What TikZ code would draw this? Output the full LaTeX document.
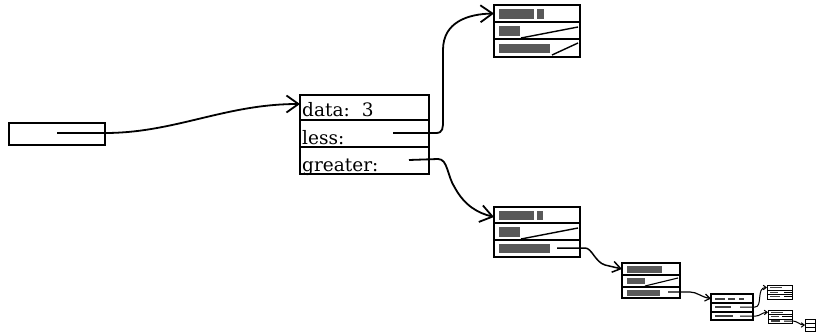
\documentclass[tikz,border=0pt]{standalone}
\usepackage{fontspec}
\newfontfamily\cellfont{DejaVu Serif}
\usetikzlibrary{arrows.meta,calc}

\tikzset{
  cell/.style={draw, line width=1.4pt, inner sep=0pt, outer sep=0pt, anchor=north west},
  smallcell/.style={cell, line width=1.1pt},
  field/.style={anchor=base west, inner sep=0pt, font=\cellfont\fontsize{18.5}{20}\selectfont},
  greek/.style={fill=black!65},
  nullptr/.style={line width=1.4pt},
  link/.style={line width=1.8pt, -{Straight Barb[length=12pt,width=17pt]}},
  linkm/.style={line width=1.5pt, -{Straight Barb[length=8pt,width=11pt]}},
  links/.style={line width=1.2pt, -{Straight Barb[length=5pt,width=7pt]}},
  linkt/.style={line width=1pt, -{Straight Barb[length=3pt,width=4.5pt]}},
}

\begin{document}
\begin{tikzpicture}[x=1pt,y=-1pt]
\useasboundingbox (0,0) rectangle (816,334);

% head pointer cell
\node[cell, minimum width=96, minimum height=22] (head) at (9,123) {};
\coordinate (hp) at (57,133);

% root node: data / less / greater
\node[cell, minimum width=129, minimum height=25] (md) at (300,95) {};
\node[cell, minimum width=129, minimum height=27] (ml) at (300,120) {};
\node[cell, minimum width=129, minimum height=27] (mg) at (300,147) {};
\node[field] (tdata) at (302,117) {data:\hspace{12pt}3};
\node[field] (tless) at (302,144) {less:};
\node[field] (tgreater) at (302,171) {greater:};
\coordinate (lp) at (393,133);
\coordinate (gp) at (409,160);

% upper child (both pointers null)
\node[cell, minimum width=86, minimum height=17] (a1) at (494,5) {};
\node[cell, minimum width=86, minimum height=17] (a2) at (494,22) {};
\node[cell, minimum width=86, minimum height=18] (a3) at (494,39) {};
\fill[greek] (499,9) rectangle (534,19);
\fill[greek] (537,9) rectangle (544,19);
\fill[greek] (499,26) rectangle (520,36);
\fill[greek] (499,44) rectangle (550,53);
\draw[nullptr] (521,38) -- (578,27);
\draw[nullptr] (552,55) -- (578,43);

% lower child
\node[cell, minimum width=86, minimum height=16] (b1) at (494,207) {};
\node[cell, minimum width=86, minimum height=17] (b2) at (494,223) {};
\node[cell, minimum width=86, minimum height=17] (b3) at (494,240) {};
\fill[greek] (499,211) rectangle (534,220);
\fill[greek] (537,211) rectangle (543,220);
\fill[greek] (499,227) rectangle (520,237);
\fill[greek] (499,244) rectangle (550,253);
\draw[nullptr] (521,239) -- (578,228);
\coordinate (bp) at (557,248);

% third level
\node[smallcell, minimum width=58, minimum height=12] (c1) at (622,263) {};
\node[smallcell, minimum width=58, minimum height=12] (c2) at (622,275) {};
\node[smallcell, minimum width=58, minimum height=11] (c3) at (622,287) {};
\fill[greek] (627,266) rectangle (662,273);
\fill[greek] (627,278) rectangle (645,284);
\fill[greek] (627,290) rectangle (660,296);
\draw[nullptr, line width=1.1pt] (645,286) -- (678,278);
\coordinate (cp) at (668,292);

% fourth level
\node[smallcell, minimum width=42, minimum height=9] (d1) at (711,294) {};
\node[smallcell, minimum width=42, minimum height=9] (d2) at (711,303) {};
\node[smallcell, minimum width=42, minimum height=8] (d3) at (711,312) {};
\fill[black!75] (715,297.5) rectangle (725,299.5);
\fill[black!75] (728,297.5) rectangle (735,299.5);
\fill[black!75] (739,297.5) rectangle (744,299.5);
\fill[black!75] (715,306) rectangle (731,308);
\fill[black!75] (715,315) rectangle (733,317);
\coordinate (dp2) at (740,307);
\coordinate (dp3) at (740,316);

% fifth level
\node[smallcell, line width=0.9pt, minimum width=25, minimum height=5] (e1) at (767,285) {};
\node[smallcell, line width=0.9pt, minimum width=25, minimum height=4.5] (e2) at (767,290) {};
\node[smallcell, line width=0.9pt, minimum width=25, minimum height=4.5] (e3) at (767,294.5) {};
\fill[black!75] (770,287) rectangle (782,288.3);
\fill[black!75] (770,291.6) rectangle (778,292.8);
\fill[black!75] (770,296) rectangle (780,297.2);
\draw[line width=0.8pt] (784,292.2) -- (792,292.2);
\draw[line width=0.8pt] (784,296.6) -- (792,296.6);

\node[smallcell, line width=0.9pt, minimum width=24, minimum height=4.5] (f1) at (768,310) {};
\node[smallcell, line width=0.9pt, minimum width=24, minimum height=4.5] (f2) at (768,314.5) {};
\node[smallcell, line width=0.9pt, minimum width=24, minimum height=4] (f3) at (768,319) {};
\fill[black!75] (771,312) rectangle (783,313.2);
\fill[black!75] (771,316.2) rectangle (779,317.4);
\fill[black!75] (771,320.4) rectangle (780,321.6);
\draw[line width=0.8pt] (782,316.8) -- (792,316.8);
\coordinate (fp) at (784,321);

% sixth level
\node[smallcell, line width=0.8pt, minimum width=10.5, minimum height=4] (g1) at (805,319) {};
\node[smallcell, line width=0.8pt, minimum width=10.5, minimum height=4] (g2) at (805,323) {};
\node[smallcell, line width=0.8pt, minimum width=10.5, minimum height=4] (g3) at (805,327) {};

% pointers
\draw[link] (hp) -- (head.east |- hp)
  .. controls (175,133) and (225,104) .. ($(md.west)+(0,-3.5)$);
\draw[link] (lp) -- (436,133) .. controls (443,133) and (443,128) .. (443,120)
  -- (443,50) .. controls (443,22) and (468,14) .. (a1.west);
\draw[link] (gp) -- (438,159) .. controls (448,159) and (447,176) .. (455,188)
  .. controls (465,206) and (478,213) .. ($(b1.west)+(0,2)$);
\draw[linkm] (bp) -- (585,248) .. controls (592,248) and (595,262) .. (605,265)
  -- (c1.west);
\draw[links] (cp) -- (690,292) .. controls (697,292) and (701,297) .. (d1.west);
\draw[linkt] (dp2) -- (755,307) .. controls (763,307) and (756,287.5) .. (e1.west);
\draw[linkt] (dp3) -- (756,316) .. controls (760,316) and (762,312.5) .. (f1.west);
\draw[linkt] (fp) -- (793,321) .. controls (797,321) and (800,325) .. (g2.west);
\end{tikzpicture}
\end{document}
